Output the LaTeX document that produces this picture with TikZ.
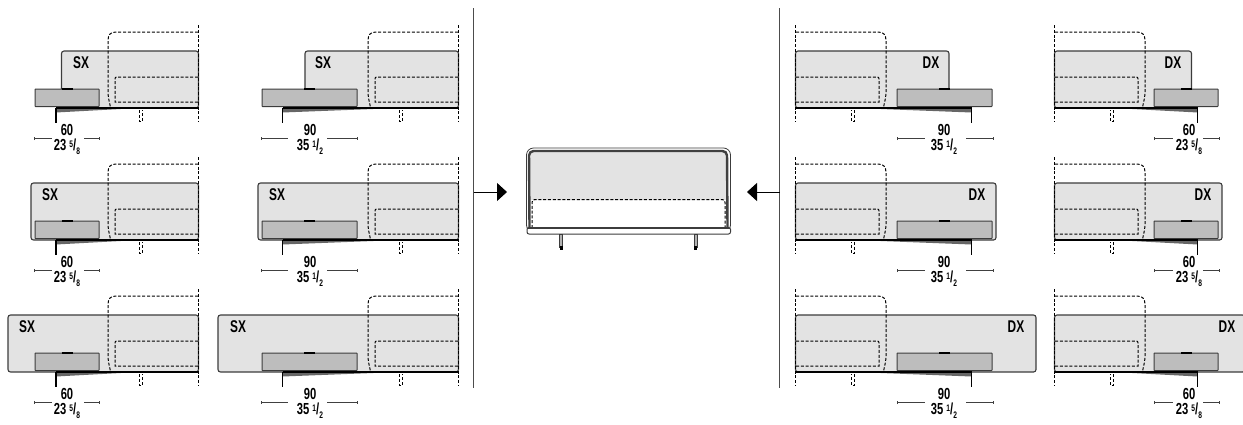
\documentclass[tikz,border=0pt]{standalone}
\usepackage{fontspec}
\setmainfont[FakeStretch=0.7]{Liberation Sans}
\usetikzlibrary{arrows.meta}
\definecolor{backgrey}{HTML}{E3E3E3}
\definecolor{tablegrey}{HTML}{BDBDBD}
\definecolor{edgegrey}{HTML}{3C3C3C}
\tikzset{
  backrect/.style={draw=edgegrey,fill=backgrey,line width=1.1pt,rounded corners=2.5pt},
  tablerect/.style={draw=edgegrey,fill=tablegrey,line width=1pt,rounded corners=.5pt},
  dashline/.style={draw=black,line width=1pt,dash pattern=on 3pt off 1.8pt},
  baseline/.style={draw=black,line width=1.6pt},
  legline/.style={draw=black,line width=1.6pt},
  dimline/.style={draw=black!75,line width=.7pt,{Bar[width=3pt,length=0pt]}-},
  dimtext/.style={font=\bfseries\fontsize{16}{16}\selectfont,inner sep=0pt,anchor=center},
  sidetext/.style={font=\bfseries\fontsize{17}{17}\selectfont,inner sep=0pt,anchor=center},
  divider/.style={draw=black!70,line width=1.1pt},
  pointer/.style={draw=black,line width=.9pt,-{Triangle[length=10pt,width=18pt]}},
}
\newcommand{\frc}[3]{#1\kern3pt\raisebox{3.5pt}{\fontsize{9.5}{9.5}\selectfont #2}\kern.2pt/\kern.2pt\raisebox{-3.5pt}{\fontsize{9.5}{9.5}\selectfont #3}}
% #1 id, #2 transform, #3 row offset, #4 back left, #5 table left, #6 table right, #7 leg x, #8 label x, #9 label
\newcommand{\sofaunit}[9]{%
\begin{scope}[#2,yshift=-#3pt]
  \path[backrect] (#4,51) rectangle (198.5,108);
  \draw[dashline] (198.5,25) -- (198.5,122);
  \draw[dashline] (198,32) -- (116,32) .. controls (110,32) and (108,35) .. (108,41) -- (108,92) .. controls (108,99) and (110,103) .. (110.5,108);
  \draw[dashline] (198,77) -- (117,77) .. controls (115.5,77) and (115,77.5) .. (115,79) -- (115,102) -- (198,102);
  \path[tablerect] (#5,89) rectangle (#6,106.5);
  \draw[line width=1.2pt,black] ({#5/2+#6/2-5.5},89) -- ({#5/2+#6/2+5.5},89);
  \fill[black!60] (#7,108) -- (139,108) -- (#7,112.5) -- cycle;
  \draw[baseline] (#7,108) -- (198.5,108);
  \draw[legline] (#7,108) -- (#7,122.5);
  \draw[dashline,line width=.8pt] (139.5,110) -- (139.5,121) -- (142.5,121) -- (142.5,110);
  \coordinate (#1-la) at (#8,130);
  \coordinate (#1-lb) at (#8,146.5);
  \coordinate (#1-s) at (#9,62.5);
  \coordinate (#1-dl) at ({#5-1.5},138.5);
  \coordinate (#1-dr) at ({#6+.5},138.5);
\end{scope}}
\newcommand{\dimlabels}[6]{%
  \node[dimtext] (#1-num) at (#1-la) {#2};
  \node[dimtext] (#1-frac) at (#1-lb) {#3};
  \node[sidetext] (#1-side) at (#1-s) {#4};
  \coordinate (#1-dli) at ([xshift=#5pt]#1-dl);
  \coordinate (#1-dri) at ([xshift=#6pt]#1-dr);
  \draw[dimline] (#1-dl) -- (#1-dli);
  \draw[dimline] (#1-dr) -- (#1-dri);
}
\newcommand{\sx}[5]{\sofaunit{#1}{#2}{#3}{#4}{35}{99}{56}{67}{#5}\dimlabels{#1}{60}{\frc{23}{5}{8}}{SX}{18}{-16}}
\newcommand{\sy}[5]{\sofaunit{#1}{#2}{#3}{#4}{2}{97}{22.5}{50}{#5}\dimlabels{#1}{90}{\frc{35}{1}{2}}{SX}{27}{-31}}
\newcommand{\dxa}[5]{\sofaunit{#1}{#2}{#3}{#4}{35}{99}{55.5}{64}{#5}\dimlabels{#1}{60}{\frc{23}{5}{8}}{DX}{-17}{19}}
\newcommand{\dxb}[5]{\sofaunit{#1}{#2}{#3}{#4}{2}{97}{22.5}{50}{#5}\dimlabels{#1}{90}{\frc{35}{1}{2}}{DX}{-28}{28}}
\begin{document}
\begin{tikzpicture}[x=1pt,y=-1pt]
\useasboundingbox (0,0) rectangle (1243,424);
\sx{a1}{xshift=0pt}{0}{61.5}{81}
\sx{a2}{xshift=0pt}{132}{31}{50}
\sx{a3}{xshift=0pt}{264}{8}{27}
\sy{b1}{xshift=260pt}{0}{45}{63}
\sy{b2}{xshift=260pt}{132}{-2}{17}
\sy{b3}{xshift=260pt}{264}{-42}{-22}
\dxb{c1}{xshift=994pt,xscale=-1}{0}{45}{63}
\dxb{c2}{xshift=994pt,xscale=-1}{132}{-2}{17}
\dxb{c3}{xshift=994pt,xscale=-1}{264}{-42}{-22}
\dxa{d1}{xshift=1253pt,xscale=-1}{0}{61.5}{80}
\dxa{d2}{xshift=1253pt,xscale=-1}{132}{31}{50}
\dxa{d3}{xshift=1253pt,xscale=-1}{264}{8}{26}
% dividers
\coordinate (vlt) at (473.5,8); \coordinate (vlb) at (473.5,388);
\coordinate (vrt) at (779.5,8); \coordinate (vrb) at (779.5,388);
\draw[divider] (vlt) -- (vlb);
\draw[divider] (vrt) -- (vrb);
\coordinate (pl0) at (473.5,192); \coordinate (pl1) at (507,192);
\coordinate (pr0) at (779.5,192); \coordinate (pr1) at (747,192);
\draw[pointer] (pl0) -- (pl1);
\draw[pointer] (pr0) -- (pr1);
% central sofa
\path[draw=edgegrey,line width=.8pt,fill=white,rounded corners=7pt] (526.5,148) rectangle (730.5,232);
\path[fill=backgrey,rounded corners=4pt] (529,150) -- (727.5,150) -- (727.5,200) -- (529,200) -- cycle;
\fill[backgrey] (529,195) rectangle (727.5,200);
\draw[black!75,line width=2.4pt,rounded corners=4.5pt] (529.5,228) -- (529,151) -- (727,151) -- (727.5,228);
\draw[dashline] (532,228) -- (532,202.5) .. controls (532,200.5) and (533,199.5) .. (535,199.5) -- (722,199.5) .. controls (724,199.5) and (725,200.5) .. (725,202.5) -- (725,228);
\path[draw=edgegrey,fill=white,line width=1pt,rounded corners=2pt] (527,227.5) rectangle (730.5,234);
\draw[edgegrey,line width=1.1pt] (528,228.5) -- (730,228.5);
\path[draw=edgegrey,fill=white!70!black,line width=.8pt] (559.5,234) rectangle (562.5,247);
\fill[black] (559.5,246) rectangle (562.5,249.5);
\path[draw=edgegrey,fill=white!70!black,line width=.8pt] (694,234) rectangle (697,247);
\fill[black] (694,246) rectangle (697,249.5);
\end{tikzpicture}
\end{document}
